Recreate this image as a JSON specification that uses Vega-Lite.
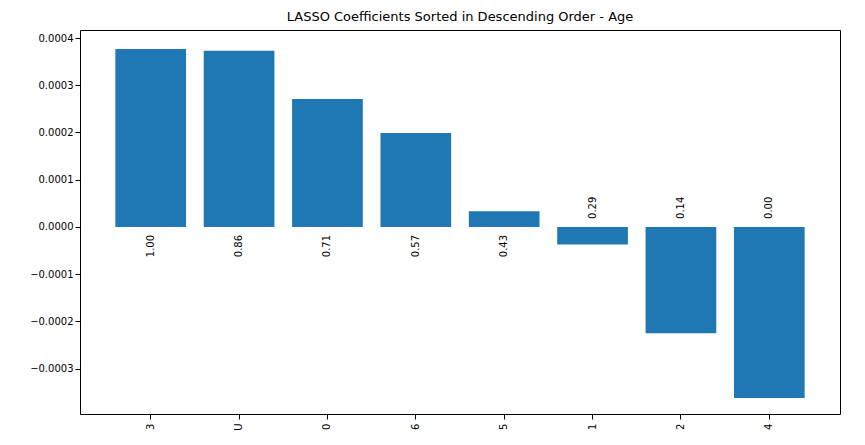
{
  "$schema": "https://vega.github.io/schema/vega-lite/v6.json",
  "width": 760,
  "height": 384,
  "autosize": "none",
  "padding": {"left": 80, "top": 30, "right": 25, "bottom": 31},
  "background": "white",
  "title": {"text": "LASSO Coefficients Sorted in Descending Order - Age", "font": "DejaVu Sans", "fontSize": 13, "fontWeight": "normal", "color": "black", "offset": 6},
  "data": {"values": [
    {"feature": "3", "coef": 0.000377, "label": "1.00"},
    {"feature": "U", "coef": 0.000373, "label": "0.86"},
    {"feature": "0", "coef": 0.000271, "label": "0.71"},
    {"feature": "6", "coef": 0.000199, "label": "0.57"},
    {"feature": "5", "coef": 0.000033, "label": "0.43"},
    {"feature": "1", "coef": -0.000037, "label": "0.29"},
    {"feature": "2", "coef": -0.000225, "label": "0.14"},
    {"feature": "4", "coef": -0.000362, "label": "0.00"}
  ]},
  "encoding": {
    "x": {"field": "feature", "type": "nominal", "sort": null, "title": null,
      "scale": {"paddingInner": 0.2, "paddingOuter": 0.4},
      "axis": {"labelAngle": 270, "labelAlign": "right", "labelBaseline": "middle", "labelFont": "DejaVu Sans", "labelFontSize": 10, "labelColor": "black", "tickColor": "black", "domain": false, "labelPadding": 4}}
  },
  "layer": [
    {
      "mark": {"type": "bar", "color": "#1f77b4"},
      "encoding": {
        "y": {"field": "coef", "type": "quantitative", "title": null,
          "scale": {"domain": [-0.000396, 0.000417], "nice": false, "zero": false},
          "axis": {"values": [-0.0003, -0.0002, -0.0001, 0, 0.0001, 0.0002, 0.0003, 0.0004], "format": ".4f", "grid": false, "domain": false, "labelFont": "DejaVu Sans", "labelFontSize": 10, "labelColor": "black", "tickColor": "black"}}
      }
    },
    {
      "transform": [{"filter": "datum.coef >= 0"}],
      "mark": {"type": "text", "angle": 270, "align": "right", "baseline": "middle", "dx": -8, "font": "DejaVu Sans", "fontSize": 10, "color": "black"},
      "encoding": {"y": {"datum": 0, "type": "quantitative"}, "text": {"field": "label"}}
    },
    {
      "transform": [{"filter": "datum.coef < 0"}],
      "mark": {"type": "text", "angle": 270, "align": "left", "baseline": "middle", "dx": 8, "font": "DejaVu Sans", "fontSize": 10, "color": "black"},
      "encoding": {"y": {"datum": 0, "type": "quantitative"}, "text": {"field": "label"}}
    }
  ],
  "config": {"view": {"stroke": "black", "strokeWidth": 1}}
}
